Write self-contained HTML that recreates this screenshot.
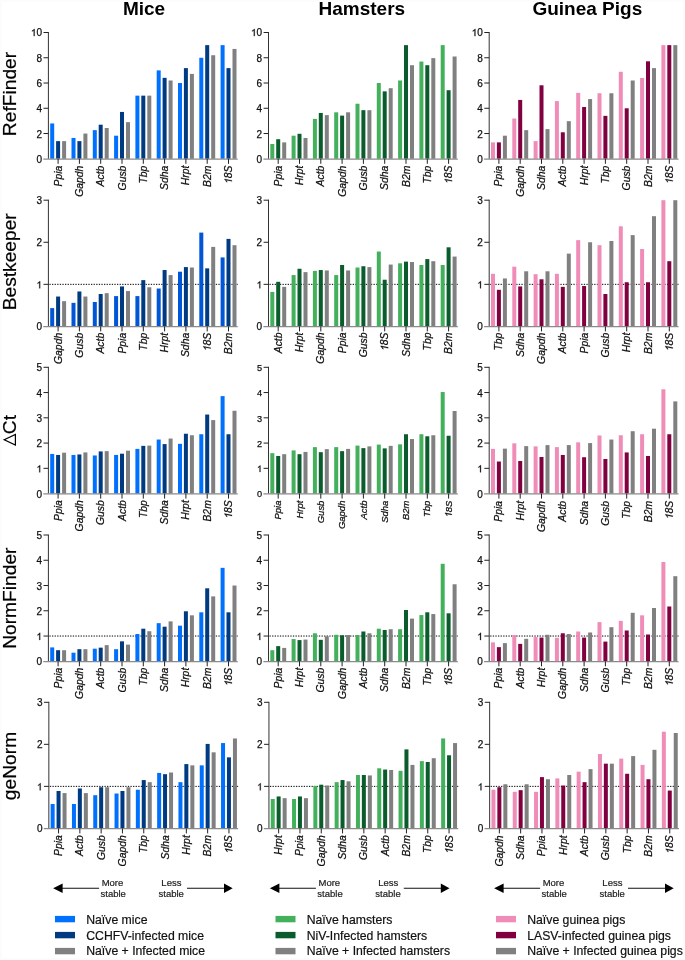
<!DOCTYPE html>
<html><head><meta charset="utf-8"><title>Reference gene stability</title>
<style>html,body{margin:0;padding:0;background:#fff;}svg{display:block;font-family:"Liberation Sans",sans-serif;will-change:transform;}.tl{font-size:10px;fill:#111;stroke:#111;stroke-width:0.25px;}.xl{font-size:10.4px;font-style:italic;fill:#111;stroke:#111;stroke-width:0.25px;}.yt{font-size:19.2px;fill:#000;stroke:#000;stroke-width:0.2px;}.ti{font-size:19px;font-weight:bold;fill:#000;}.st{font-size:9.5px;fill:#222;stroke:#222;stroke-width:0.2px;}.lg{font-size:12.25px;fill:#111;stroke:#111;stroke-width:0.2px;}</style></head><body>
<svg width="685" height="960" viewBox="0 0 685 960">
<rect width="685" height="960" fill="#fcfcfc"/>
<rect x="2" y="2" width="681" height="956" fill="#fff"/>
<text class="ti" x="144" y="15" text-anchor="middle">Mice</text>
<text class="ti" x="361.8" y="15" text-anchor="middle">Hamsters</text>
<text class="ti" x="587.3" y="15" text-anchor="middle">Guinea Pigs</text>
<text class="yt" transform="translate(16,94) rotate(-90)" text-anchor="middle">RefFinder</text>
<rect x="50.2" y="123.44" width="4" height="35.36" fill="#0070ff"/>
<rect x="56.1" y="141.12" width="4" height="17.68" fill="#003a80"/>
<rect x="62.1" y="141.12" width="4" height="17.68" fill="#808080"/>
<rect x="71.5" y="137.96" width="4" height="20.84" fill="#0070ff"/>
<rect x="77.4" y="141.12" width="4" height="17.68" fill="#003a80"/>
<rect x="83.4" y="133.54" width="4" height="25.26" fill="#808080"/>
<rect x="92.8" y="130.13" width="4" height="28.67" fill="#0070ff"/>
<rect x="98.7" y="124.7" width="4" height="34.1" fill="#003a80"/>
<rect x="104.7" y="127.98" width="4" height="30.82" fill="#808080"/>
<rect x="114.1" y="135.69" width="4" height="23.11" fill="#0070ff"/>
<rect x="120" y="111.94" width="4" height="46.86" fill="#003a80"/>
<rect x="126" y="122.17" width="4" height="36.63" fill="#808080"/>
<rect x="135.4" y="95.65" width="4" height="63.15" fill="#0070ff"/>
<rect x="141.3" y="95.65" width="4" height="63.15" fill="#003a80"/>
<rect x="147.3" y="95.65" width="4" height="63.15" fill="#808080"/>
<rect x="156.7" y="70.39" width="4" height="88.41" fill="#0070ff"/>
<rect x="162.6" y="77.84" width="4" height="80.96" fill="#003a80"/>
<rect x="168.6" y="80.49" width="4" height="78.31" fill="#808080"/>
<rect x="178" y="83.02" width="4" height="75.78" fill="#0070ff"/>
<rect x="183.9" y="68.12" width="4" height="90.68" fill="#003a80"/>
<rect x="189.9" y="73.93" width="4" height="84.87" fill="#808080"/>
<rect x="199.3" y="57.76" width="4" height="101.04" fill="#0070ff"/>
<rect x="205.2" y="45.13" width="4" height="113.67" fill="#003a80"/>
<rect x="211.2" y="55.23" width="4" height="103.57" fill="#808080"/>
<rect x="220.6" y="45.13" width="4" height="113.67" fill="#0070ff"/>
<rect x="226.5" y="68.12" width="4" height="90.68" fill="#003a80"/>
<rect x="232.5" y="48.92" width="4" height="109.88" fill="#808080"/>
<line x1="48.4" y1="32" x2="48.4" y2="158.8" stroke="#333" stroke-width="1"/>
<text class="tl" x="42" y="162.8" text-anchor="end">0</text>
<line x1="43.5" y1="133.54" x2="48.4" y2="133.54" stroke="#222" stroke-width="1"/>
<text class="tl" x="42" y="137.54" text-anchor="end">2</text>
<line x1="43.5" y1="108.28" x2="48.4" y2="108.28" stroke="#222" stroke-width="1"/>
<text class="tl" x="42" y="112.28" text-anchor="end">4</text>
<line x1="43.5" y1="83.02" x2="48.4" y2="83.02" stroke="#222" stroke-width="1"/>
<text class="tl" x="42" y="87.02" text-anchor="end">6</text>
<line x1="43.5" y1="57.76" x2="48.4" y2="57.76" stroke="#222" stroke-width="1"/>
<text class="tl" x="42" y="61.76" text-anchor="end">8</text>
<line x1="43.5" y1="32.5" x2="48.4" y2="32.5" stroke="#222" stroke-width="1"/>
<text class="tl" x="42" y="36.1" text-anchor="end">0</text>
<path class="tl" d="M34.6 36.1L33.72 36.1L33.72 30.5Q33.41 30.8 32.89 31.1Q32.38 31.41 31.97 31.56L31.97 30.71Q32.7 30.36 33.25 29.87Q33.81 29.38 34.04 28.91L34.6 28.91Z"/>
<line x1="43.3" y1="159.05" x2="237.7" y2="159.05" stroke="#8a8a8a" stroke-width="1.3"/>
<line x1="58.1" y1="158.8" x2="58.1" y2="163.8" stroke="#222" stroke-width="1"/>
<text class="xl" transform="translate(61.6,165.6) rotate(-90)" text-anchor="end">Ppia</text>
<line x1="79.4" y1="158.8" x2="79.4" y2="163.8" stroke="#222" stroke-width="1"/>
<text class="xl" transform="translate(82.9,165.6) rotate(-90)" text-anchor="end">Gapdh</text>
<line x1="100.7" y1="158.8" x2="100.7" y2="163.8" stroke="#222" stroke-width="1"/>
<text class="xl" transform="translate(104.2,165.6) rotate(-90)" text-anchor="end">Actb</text>
<line x1="122" y1="158.8" x2="122" y2="163.8" stroke="#222" stroke-width="1"/>
<text class="xl" transform="translate(125.5,165.6) rotate(-90)" text-anchor="end">Gusb</text>
<line x1="143.3" y1="158.8" x2="143.3" y2="163.8" stroke="#222" stroke-width="1"/>
<text class="xl" transform="translate(146.8,165.6) rotate(-90)" text-anchor="end">Tbp</text>
<line x1="164.6" y1="158.8" x2="164.6" y2="163.8" stroke="#222" stroke-width="1"/>
<text class="xl" transform="translate(168.1,165.6) rotate(-90)" text-anchor="end">Sdha</text>
<line x1="185.9" y1="158.8" x2="185.9" y2="163.8" stroke="#222" stroke-width="1"/>
<text class="xl" transform="translate(189.4,165.6) rotate(-90)" text-anchor="end">Hrpt</text>
<line x1="207.2" y1="158.8" x2="207.2" y2="163.8" stroke="#222" stroke-width="1"/>
<text class="xl" transform="translate(210.7,165.6) rotate(-90)" text-anchor="end">B2m</text>
<line x1="228.5" y1="158.8" x2="228.5" y2="163.8" stroke="#222" stroke-width="1"/>
<g transform="translate(232,165.6) rotate(-90)"><text class="xl" text-anchor="end">8S</text><path class="xl" d="M-14.83 0L-15.75 0L-14.58 -5.82Q-14.98 -5.51 -15.57 -5.19Q-16.17 -4.88 -16.63 -4.72L-16.45 -5.61Q-15.62 -5.97 -14.94 -6.48Q-14.26 -6.99 -13.93 -7.48L-13.34 -7.48Z"/></g>
<rect x="270.3" y="144.02" width="4" height="14.78" fill="#43b05c"/>
<rect x="276.2" y="139.22" width="4" height="19.58" fill="#0b5c2c"/>
<rect x="282.2" y="142.38" width="4" height="16.42" fill="#808080"/>
<rect x="291.6" y="135.69" width="4" height="23.11" fill="#43b05c"/>
<rect x="297.5" y="133.79" width="4" height="25.01" fill="#0b5c2c"/>
<rect x="303.5" y="137.96" width="4" height="20.84" fill="#808080"/>
<rect x="312.9" y="118.89" width="4" height="39.91" fill="#43b05c"/>
<rect x="318.8" y="112.95" width="4" height="45.85" fill="#0b5c2c"/>
<rect x="324.8" y="115.1" width="4" height="43.7" fill="#808080"/>
<rect x="334.2" y="112.32" width="4" height="46.48" fill="#43b05c"/>
<rect x="340.1" y="115.61" width="4" height="43.19" fill="#0b5c2c"/>
<rect x="346.1" y="112.32" width="4" height="46.48" fill="#808080"/>
<rect x="355.5" y="103.73" width="4" height="55.07" fill="#43b05c"/>
<rect x="361.4" y="110.17" width="4" height="48.63" fill="#0b5c2c"/>
<rect x="367.4" y="110.17" width="4" height="48.63" fill="#808080"/>
<rect x="376.8" y="83.02" width="4" height="75.78" fill="#43b05c"/>
<rect x="382.7" y="91.36" width="4" height="67.44" fill="#0b5c2c"/>
<rect x="388.7" y="88.2" width="4" height="70.6" fill="#808080"/>
<rect x="398.1" y="80.49" width="4" height="78.31" fill="#43b05c"/>
<rect x="404" y="45.13" width="4" height="113.67" fill="#0b5c2c"/>
<rect x="410" y="65.21" width="4" height="93.59" fill="#808080"/>
<rect x="419.4" y="61.55" width="4" height="97.25" fill="#43b05c"/>
<rect x="425.3" y="65.21" width="4" height="93.59" fill="#0b5c2c"/>
<rect x="431.3" y="58.14" width="4" height="100.66" fill="#808080"/>
<rect x="440.7" y="45.13" width="4" height="113.67" fill="#43b05c"/>
<rect x="446.6" y="90.22" width="4" height="68.58" fill="#0b5c2c"/>
<rect x="452.6" y="56.5" width="4" height="102.3" fill="#808080"/>
<line x1="268.5" y1="32" x2="268.5" y2="158.8" stroke="#333" stroke-width="1"/>
<text class="tl" x="262.1" y="162.8" text-anchor="end">0</text>
<line x1="263.6" y1="133.54" x2="268.5" y2="133.54" stroke="#222" stroke-width="1"/>
<text class="tl" x="262.1" y="137.54" text-anchor="end">2</text>
<line x1="263.6" y1="108.28" x2="268.5" y2="108.28" stroke="#222" stroke-width="1"/>
<text class="tl" x="262.1" y="112.28" text-anchor="end">4</text>
<line x1="263.6" y1="83.02" x2="268.5" y2="83.02" stroke="#222" stroke-width="1"/>
<text class="tl" x="262.1" y="87.02" text-anchor="end">6</text>
<line x1="263.6" y1="57.76" x2="268.5" y2="57.76" stroke="#222" stroke-width="1"/>
<text class="tl" x="262.1" y="61.76" text-anchor="end">8</text>
<line x1="263.6" y1="32.5" x2="268.5" y2="32.5" stroke="#222" stroke-width="1"/>
<text class="tl" x="262.1" y="36.1" text-anchor="end">0</text>
<path class="tl" d="M254.7 36.1L253.82 36.1L253.82 30.5Q253.51 30.8 252.99 31.1Q252.48 31.41 252.07 31.56L252.07 30.71Q252.8 30.36 253.35 29.87Q253.91 29.38 254.14 28.91L254.7 28.91Z"/>
<line x1="263.4" y1="159.05" x2="457.8" y2="159.05" stroke="#8a8a8a" stroke-width="1.3"/>
<line x1="278.2" y1="158.8" x2="278.2" y2="163.8" stroke="#222" stroke-width="1"/>
<text class="xl" transform="translate(281.7,165.6) rotate(-90)" text-anchor="end">Ppia</text>
<line x1="299.5" y1="158.8" x2="299.5" y2="163.8" stroke="#222" stroke-width="1"/>
<text class="xl" transform="translate(303,165.6) rotate(-90)" text-anchor="end">Hrpt</text>
<line x1="320.8" y1="158.8" x2="320.8" y2="163.8" stroke="#222" stroke-width="1"/>
<text class="xl" transform="translate(324.3,165.6) rotate(-90)" text-anchor="end">Actb</text>
<line x1="342.1" y1="158.8" x2="342.1" y2="163.8" stroke="#222" stroke-width="1"/>
<text class="xl" transform="translate(345.6,165.6) rotate(-90)" text-anchor="end">Gapdh</text>
<line x1="363.4" y1="158.8" x2="363.4" y2="163.8" stroke="#222" stroke-width="1"/>
<text class="xl" transform="translate(366.9,165.6) rotate(-90)" text-anchor="end">Gusb</text>
<line x1="384.7" y1="158.8" x2="384.7" y2="163.8" stroke="#222" stroke-width="1"/>
<text class="xl" transform="translate(388.2,165.6) rotate(-90)" text-anchor="end">Sdha</text>
<line x1="406" y1="158.8" x2="406" y2="163.8" stroke="#222" stroke-width="1"/>
<text class="xl" transform="translate(409.5,165.6) rotate(-90)" text-anchor="end">B2m</text>
<line x1="427.3" y1="158.8" x2="427.3" y2="163.8" stroke="#222" stroke-width="1"/>
<text class="xl" transform="translate(430.8,165.6) rotate(-90)" text-anchor="end">Tbp</text>
<line x1="448.6" y1="158.8" x2="448.6" y2="163.8" stroke="#222" stroke-width="1"/>
<g transform="translate(452.1,165.6) rotate(-90)"><text class="xl" text-anchor="end">8S</text><path class="xl" d="M-14.83 0L-15.75 0L-14.58 -5.82Q-14.98 -5.51 -15.57 -5.19Q-16.17 -4.88 -16.63 -4.72L-16.45 -5.61Q-15.62 -5.97 -14.94 -6.48Q-14.26 -6.99 -13.93 -7.48L-13.34 -7.48Z"/></g>
<rect x="491" y="142.38" width="4" height="16.42" fill="#f08cb8"/>
<rect x="496.9" y="142.38" width="4" height="16.42" fill="#800040"/>
<rect x="502.9" y="135.69" width="4" height="23.11" fill="#808080"/>
<rect x="512.3" y="118.51" width="4" height="40.29" fill="#f08cb8"/>
<rect x="518.2" y="99.94" width="4" height="58.86" fill="#800040"/>
<rect x="524.2" y="130.13" width="4" height="28.67" fill="#808080"/>
<rect x="533.6" y="141.12" width="4" height="17.68" fill="#f08cb8"/>
<rect x="539.5" y="85.29" width="4" height="73.51" fill="#800040"/>
<rect x="545.5" y="129.12" width="4" height="29.68" fill="#808080"/>
<rect x="554.9" y="101.08" width="4" height="57.72" fill="#f08cb8"/>
<rect x="560.8" y="132.28" width="4" height="26.52" fill="#800040"/>
<rect x="566.8" y="121.16" width="4" height="37.64" fill="#808080"/>
<rect x="576.2" y="92.87" width="4" height="65.93" fill="#f08cb8"/>
<rect x="582.1" y="107.02" width="4" height="51.78" fill="#800040"/>
<rect x="588.1" y="99.06" width="4" height="59.74" fill="#808080"/>
<rect x="597.5" y="93.25" width="4" height="65.55" fill="#f08cb8"/>
<rect x="603.4" y="115.86" width="4" height="42.94" fill="#800040"/>
<rect x="609.4" y="93.25" width="4" height="65.55" fill="#808080"/>
<rect x="618.8" y="71.78" width="4" height="87.02" fill="#f08cb8"/>
<rect x="624.7" y="108.28" width="4" height="50.52" fill="#800040"/>
<rect x="630.7" y="80.49" width="4" height="78.31" fill="#808080"/>
<rect x="640.1" y="77.97" width="4" height="80.83" fill="#f08cb8"/>
<rect x="646" y="61.3" width="4" height="97.5" fill="#800040"/>
<rect x="652" y="68.12" width="4" height="90.68" fill="#808080"/>
<rect x="661.4" y="45.13" width="4" height="113.67" fill="#f08cb8"/>
<rect x="667.3" y="45.13" width="4" height="113.67" fill="#800040"/>
<rect x="673.3" y="45.13" width="4" height="113.67" fill="#808080"/>
<line x1="489.2" y1="32" x2="489.2" y2="158.8" stroke="#333" stroke-width="1"/>
<text class="tl" x="482.8" y="162.8" text-anchor="end">0</text>
<line x1="484.3" y1="133.54" x2="489.2" y2="133.54" stroke="#222" stroke-width="1"/>
<text class="tl" x="482.8" y="137.54" text-anchor="end">2</text>
<line x1="484.3" y1="108.28" x2="489.2" y2="108.28" stroke="#222" stroke-width="1"/>
<text class="tl" x="482.8" y="112.28" text-anchor="end">4</text>
<line x1="484.3" y1="83.02" x2="489.2" y2="83.02" stroke="#222" stroke-width="1"/>
<text class="tl" x="482.8" y="87.02" text-anchor="end">6</text>
<line x1="484.3" y1="57.76" x2="489.2" y2="57.76" stroke="#222" stroke-width="1"/>
<text class="tl" x="482.8" y="61.76" text-anchor="end">8</text>
<line x1="484.3" y1="32.5" x2="489.2" y2="32.5" stroke="#222" stroke-width="1"/>
<text class="tl" x="482.8" y="36.1" text-anchor="end">0</text>
<path class="tl" d="M475.4 36.1L474.52 36.1L474.52 30.5Q474.21 30.8 473.69 31.1Q473.18 31.41 472.77 31.56L472.77 30.71Q473.5 30.36 474.05 29.87Q474.61 29.38 474.84 28.91L475.4 28.91Z"/>
<line x1="484.1" y1="159.05" x2="678.5" y2="159.05" stroke="#8a8a8a" stroke-width="1.3"/>
<line x1="498.9" y1="158.8" x2="498.9" y2="163.8" stroke="#222" stroke-width="1"/>
<text class="xl" transform="translate(502.4,165.6) rotate(-90)" text-anchor="end">Ppia</text>
<line x1="520.2" y1="158.8" x2="520.2" y2="163.8" stroke="#222" stroke-width="1"/>
<text class="xl" transform="translate(523.7,165.6) rotate(-90)" text-anchor="end">Gapdh</text>
<line x1="541.5" y1="158.8" x2="541.5" y2="163.8" stroke="#222" stroke-width="1"/>
<text class="xl" transform="translate(545,165.6) rotate(-90)" text-anchor="end">Sdha</text>
<line x1="562.8" y1="158.8" x2="562.8" y2="163.8" stroke="#222" stroke-width="1"/>
<text class="xl" transform="translate(566.3,165.6) rotate(-90)" text-anchor="end">Actb</text>
<line x1="584.1" y1="158.8" x2="584.1" y2="163.8" stroke="#222" stroke-width="1"/>
<text class="xl" transform="translate(587.6,165.6) rotate(-90)" text-anchor="end">Hrpt</text>
<line x1="605.4" y1="158.8" x2="605.4" y2="163.8" stroke="#222" stroke-width="1"/>
<text class="xl" transform="translate(608.9,165.6) rotate(-90)" text-anchor="end">Tbp</text>
<line x1="626.7" y1="158.8" x2="626.7" y2="163.8" stroke="#222" stroke-width="1"/>
<text class="xl" transform="translate(630.2,165.6) rotate(-90)" text-anchor="end">Gusb</text>
<line x1="648" y1="158.8" x2="648" y2="163.8" stroke="#222" stroke-width="1"/>
<text class="xl" transform="translate(651.5,165.6) rotate(-90)" text-anchor="end">B2m</text>
<line x1="669.3" y1="158.8" x2="669.3" y2="163.8" stroke="#222" stroke-width="1"/>
<g transform="translate(672.8,165.6) rotate(-90)"><text class="xl" text-anchor="end">8S</text><path class="xl" d="M-14.83 0L-15.75 0L-14.58 -5.82Q-14.98 -5.51 -15.57 -5.19Q-16.17 -4.88 -16.63 -4.72L-16.45 -5.61Q-15.62 -5.97 -14.94 -6.48Q-14.26 -6.99 -13.93 -7.48L-13.34 -7.48Z"/></g>
<text class="yt" transform="translate(16,261.8) rotate(-90)" text-anchor="middle">Bestkeeper</text>
<line x1="49.4" y1="284.33" x2="237.7" y2="284.33" stroke="#000" stroke-width="1" stroke-dasharray="1.3 1.3"/>
<rect x="50.2" y="308.1" width="4" height="18.3" fill="#0056d6"/>
<rect x="56.1" y="296.53" width="4" height="29.87" fill="#003a80"/>
<rect x="62.1" y="301.16" width="4" height="25.24" fill="#808080"/>
<rect x="71.5" y="302.84" width="4" height="23.56" fill="#0056d6"/>
<rect x="77.4" y="291.48" width="4" height="34.92" fill="#003a80"/>
<rect x="83.4" y="296.53" width="4" height="29.87" fill="#808080"/>
<rect x="92.8" y="302" width="4" height="24.4" fill="#0056d6"/>
<rect x="98.7" y="294.01" width="4" height="32.39" fill="#003a80"/>
<rect x="104.7" y="293.17" width="4" height="33.23" fill="#808080"/>
<rect x="114.1" y="296.11" width="4" height="30.29" fill="#0056d6"/>
<rect x="120" y="286.44" width="4" height="39.96" fill="#003a80"/>
<rect x="126" y="291.06" width="4" height="35.34" fill="#808080"/>
<rect x="135.4" y="296.11" width="4" height="30.29" fill="#0056d6"/>
<rect x="141.3" y="280.13" width="4" height="46.27" fill="#003a80"/>
<rect x="147.3" y="287.28" width="4" height="39.12" fill="#808080"/>
<rect x="156.7" y="288.54" width="4" height="37.86" fill="#0056d6"/>
<rect x="162.6" y="270.03" width="4" height="56.37" fill="#003a80"/>
<rect x="168.6" y="275.08" width="4" height="51.32" fill="#808080"/>
<rect x="178" y="271.71" width="4" height="54.69" fill="#0056d6"/>
<rect x="183.9" y="267.09" width="4" height="59.31" fill="#003a80"/>
<rect x="189.9" y="267.51" width="4" height="58.89" fill="#808080"/>
<rect x="199.3" y="232.59" width="4" height="93.81" fill="#0056d6"/>
<rect x="205.2" y="268.35" width="4" height="58.05" fill="#003a80"/>
<rect x="211.2" y="246.89" width="4" height="79.51" fill="#808080"/>
<rect x="220.6" y="257.41" width="4" height="68.99" fill="#0056d6"/>
<rect x="226.5" y="238.9" width="4" height="87.5" fill="#003a80"/>
<rect x="232.5" y="245.21" width="4" height="81.19" fill="#808080"/>
<line x1="48.4" y1="199.7" x2="48.4" y2="326.4" stroke="#333" stroke-width="1"/>
<text class="tl" x="42" y="330.4" text-anchor="end">0</text>
<line x1="43.5" y1="284.33" x2="48.4" y2="284.33" stroke="#222" stroke-width="1"/>
<path class="tl" d="M40.16 288.33L39.29 288.33L39.29 282.73Q38.97 283.04 38.45 283.34Q37.94 283.64 37.53 283.79L37.53 282.94Q38.26 282.6 38.82 282.1Q39.37 281.61 39.6 281.15L40.16 281.15Z"/>
<line x1="43.5" y1="242.27" x2="48.4" y2="242.27" stroke="#222" stroke-width="1"/>
<text class="tl" x="42" y="246.27" text-anchor="end">2</text>
<line x1="43.5" y1="200.2" x2="48.4" y2="200.2" stroke="#222" stroke-width="1"/>
<text class="tl" x="42" y="204.2" text-anchor="end">3</text>
<line x1="43.3" y1="326.65" x2="237.7" y2="326.65" stroke="#8a8a8a" stroke-width="1.3"/>
<line x1="58.1" y1="326.4" x2="58.1" y2="331.4" stroke="#222" stroke-width="1"/>
<text class="xl" transform="translate(61.6,332.8) rotate(-90)" text-anchor="end">Gapdh</text>
<line x1="79.4" y1="326.4" x2="79.4" y2="331.4" stroke="#222" stroke-width="1"/>
<text class="xl" transform="translate(82.9,332.8) rotate(-90)" text-anchor="end">Gusb</text>
<line x1="100.7" y1="326.4" x2="100.7" y2="331.4" stroke="#222" stroke-width="1"/>
<text class="xl" transform="translate(104.2,332.8) rotate(-90)" text-anchor="end">Actb</text>
<line x1="122" y1="326.4" x2="122" y2="331.4" stroke="#222" stroke-width="1"/>
<text class="xl" transform="translate(125.5,332.8) rotate(-90)" text-anchor="end">Ppia</text>
<line x1="143.3" y1="326.4" x2="143.3" y2="331.4" stroke="#222" stroke-width="1"/>
<text class="xl" transform="translate(146.8,332.8) rotate(-90)" text-anchor="end">Tbp</text>
<line x1="164.6" y1="326.4" x2="164.6" y2="331.4" stroke="#222" stroke-width="1"/>
<text class="xl" transform="translate(168.1,332.8) rotate(-90)" text-anchor="end">Hrpt</text>
<line x1="185.9" y1="326.4" x2="185.9" y2="331.4" stroke="#222" stroke-width="1"/>
<text class="xl" transform="translate(189.4,332.8) rotate(-90)" text-anchor="end">Sdha</text>
<line x1="207.2" y1="326.4" x2="207.2" y2="331.4" stroke="#222" stroke-width="1"/>
<g transform="translate(210.7,332.8) rotate(-90)"><text class="xl" text-anchor="end">8S</text><path class="xl" d="M-14.83 0L-15.75 0L-14.58 -5.82Q-14.98 -5.51 -15.57 -5.19Q-16.17 -4.88 -16.63 -4.72L-16.45 -5.61Q-15.62 -5.97 -14.94 -6.48Q-14.26 -6.99 -13.93 -7.48L-13.34 -7.48Z"/></g>
<line x1="228.5" y1="326.4" x2="228.5" y2="331.4" stroke="#222" stroke-width="1"/>
<text class="xl" transform="translate(232,332.8) rotate(-90)" text-anchor="end">B2m</text>
<line x1="269.5" y1="284.33" x2="457.8" y2="284.33" stroke="#000" stroke-width="1" stroke-dasharray="1.3 1.3"/>
<rect x="270.3" y="291.91" width="4" height="34.49" fill="#43b05c"/>
<rect x="276.2" y="281.81" width="4" height="44.59" fill="#0b5c2c"/>
<rect x="282.2" y="286.86" width="4" height="39.54" fill="#808080"/>
<rect x="291.6" y="275.08" width="4" height="51.32" fill="#43b05c"/>
<rect x="297.5" y="268.77" width="4" height="57.63" fill="#0b5c2c"/>
<rect x="303.5" y="272.13" width="4" height="54.27" fill="#808080"/>
<rect x="312.9" y="270.87" width="4" height="55.53" fill="#43b05c"/>
<rect x="318.8" y="270.03" width="4" height="56.37" fill="#0b5c2c"/>
<rect x="324.8" y="270.45" width="4" height="55.95" fill="#808080"/>
<rect x="334.2" y="275.08" width="4" height="51.32" fill="#43b05c"/>
<rect x="340.1" y="264.98" width="4" height="61.42" fill="#0b5c2c"/>
<rect x="346.1" y="270.45" width="4" height="55.95" fill="#808080"/>
<rect x="355.5" y="267.51" width="4" height="58.89" fill="#43b05c"/>
<rect x="361.4" y="266.24" width="4" height="60.16" fill="#0b5c2c"/>
<rect x="367.4" y="267.09" width="4" height="59.31" fill="#808080"/>
<rect x="376.8" y="251.52" width="4" height="74.88" fill="#43b05c"/>
<rect x="382.7" y="279.71" width="4" height="46.69" fill="#0b5c2c"/>
<rect x="388.7" y="264.56" width="4" height="61.84" fill="#808080"/>
<rect x="398.1" y="263.3" width="4" height="63.1" fill="#43b05c"/>
<rect x="404" y="261.62" width="4" height="64.78" fill="#0b5c2c"/>
<rect x="410" y="262.04" width="4" height="64.36" fill="#808080"/>
<rect x="419.4" y="264.98" width="4" height="61.42" fill="#43b05c"/>
<rect x="425.3" y="259.09" width="4" height="67.31" fill="#0b5c2c"/>
<rect x="431.3" y="261.2" width="4" height="65.2" fill="#808080"/>
<rect x="440.7" y="264.98" width="4" height="61.42" fill="#43b05c"/>
<rect x="446.6" y="247.31" width="4" height="79.09" fill="#0b5c2c"/>
<rect x="452.6" y="256.57" width="4" height="69.83" fill="#808080"/>
<line x1="268.5" y1="199.7" x2="268.5" y2="326.4" stroke="#333" stroke-width="1"/>
<text class="tl" x="262.1" y="330.4" text-anchor="end">0</text>
<line x1="263.6" y1="284.33" x2="268.5" y2="284.33" stroke="#222" stroke-width="1"/>
<path class="tl" d="M260.26 288.33L259.39 288.33L259.39 282.73Q259.07 283.04 258.55 283.34Q258.04 283.64 257.63 283.79L257.63 282.94Q258.36 282.6 258.92 282.1Q259.47 281.61 259.7 281.15L260.26 281.15Z"/>
<line x1="263.6" y1="242.27" x2="268.5" y2="242.27" stroke="#222" stroke-width="1"/>
<text class="tl" x="262.1" y="246.27" text-anchor="end">2</text>
<line x1="263.6" y1="200.2" x2="268.5" y2="200.2" stroke="#222" stroke-width="1"/>
<text class="tl" x="262.1" y="204.2" text-anchor="end">3</text>
<line x1="263.4" y1="326.65" x2="457.8" y2="326.65" stroke="#8a8a8a" stroke-width="1.3"/>
<line x1="278.2" y1="326.4" x2="278.2" y2="331.4" stroke="#222" stroke-width="1"/>
<text class="xl" transform="translate(281.7,332.5) rotate(-90)" text-anchor="end">Actb</text>
<line x1="299.5" y1="326.4" x2="299.5" y2="331.4" stroke="#222" stroke-width="1"/>
<text class="xl" transform="translate(303,332.5) rotate(-90)" text-anchor="end">Hrpt</text>
<line x1="320.8" y1="326.4" x2="320.8" y2="331.4" stroke="#222" stroke-width="1"/>
<text class="xl" transform="translate(324.3,332.5) rotate(-90)" text-anchor="end">Gapdh</text>
<line x1="342.1" y1="326.4" x2="342.1" y2="331.4" stroke="#222" stroke-width="1"/>
<text class="xl" transform="translate(345.6,332.5) rotate(-90)" text-anchor="end">Ppia</text>
<line x1="363.4" y1="326.4" x2="363.4" y2="331.4" stroke="#222" stroke-width="1"/>
<text class="xl" transform="translate(366.9,332.5) rotate(-90)" text-anchor="end">Gusb</text>
<line x1="384.7" y1="326.4" x2="384.7" y2="331.4" stroke="#222" stroke-width="1"/>
<g transform="translate(388.2,332.5) rotate(-90)"><text class="xl" text-anchor="end">8S</text><path class="xl" d="M-14.83 0L-15.75 0L-14.58 -5.82Q-14.98 -5.51 -15.57 -5.19Q-16.17 -4.88 -16.63 -4.72L-16.45 -5.61Q-15.62 -5.97 -14.94 -6.48Q-14.26 -6.99 -13.93 -7.48L-13.34 -7.48Z"/></g>
<line x1="406" y1="326.4" x2="406" y2="331.4" stroke="#222" stroke-width="1"/>
<text class="xl" transform="translate(409.5,332.5) rotate(-90)" text-anchor="end">Sdha</text>
<line x1="427.3" y1="326.4" x2="427.3" y2="331.4" stroke="#222" stroke-width="1"/>
<text class="xl" transform="translate(430.8,332.5) rotate(-90)" text-anchor="end">Tbp</text>
<line x1="448.6" y1="326.4" x2="448.6" y2="331.4" stroke="#222" stroke-width="1"/>
<text class="xl" transform="translate(452.1,332.5) rotate(-90)" text-anchor="end">B2m</text>
<line x1="490.2" y1="284.33" x2="678.5" y2="284.33" stroke="#000" stroke-width="1" stroke-dasharray="1.3 1.3"/>
<rect x="491" y="273.82" width="4" height="52.58" fill="#f08cb8"/>
<rect x="496.9" y="289.8" width="4" height="36.6" fill="#800040"/>
<rect x="502.9" y="278.44" width="4" height="47.96" fill="#808080"/>
<rect x="512.3" y="266.67" width="4" height="59.73" fill="#f08cb8"/>
<rect x="518.2" y="286.44" width="4" height="39.96" fill="#800040"/>
<rect x="524.2" y="271.29" width="4" height="55.11" fill="#808080"/>
<rect x="533.6" y="274.24" width="4" height="52.16" fill="#f08cb8"/>
<rect x="539.5" y="279.29" width="4" height="47.11" fill="#800040"/>
<rect x="545.5" y="271.29" width="4" height="55.11" fill="#808080"/>
<rect x="554.9" y="273.82" width="4" height="52.58" fill="#f08cb8"/>
<rect x="560.8" y="286.86" width="4" height="39.54" fill="#800040"/>
<rect x="566.8" y="253.62" width="4" height="72.78" fill="#808080"/>
<rect x="576.2" y="240.16" width="4" height="86.24" fill="#f08cb8"/>
<rect x="582.1" y="286.02" width="4" height="40.38" fill="#800040"/>
<rect x="588.1" y="242.27" width="4" height="84.13" fill="#808080"/>
<rect x="597.5" y="245.21" width="4" height="81.19" fill="#f08cb8"/>
<rect x="603.4" y="294.01" width="4" height="32.39" fill="#800040"/>
<rect x="609.4" y="241" width="4" height="85.4" fill="#808080"/>
<rect x="618.8" y="226.28" width="4" height="100.12" fill="#f08cb8"/>
<rect x="624.7" y="282.23" width="4" height="44.17" fill="#800040"/>
<rect x="630.7" y="235.12" width="4" height="91.28" fill="#808080"/>
<rect x="640.1" y="249" width="4" height="77.4" fill="#f08cb8"/>
<rect x="646" y="282.23" width="4" height="44.17" fill="#800040"/>
<rect x="652" y="216.19" width="4" height="110.21" fill="#808080"/>
<rect x="661.4" y="200.2" width="4" height="126.2" fill="#f08cb8"/>
<rect x="667.3" y="261.2" width="4" height="65.2" fill="#800040"/>
<rect x="673.3" y="200.2" width="4" height="126.2" fill="#808080"/>
<line x1="489.2" y1="199.7" x2="489.2" y2="326.4" stroke="#333" stroke-width="1"/>
<text class="tl" x="482.8" y="330.4" text-anchor="end">0</text>
<line x1="484.3" y1="284.33" x2="489.2" y2="284.33" stroke="#222" stroke-width="1"/>
<path class="tl" d="M480.96 288.33L480.09 288.33L480.09 282.73Q479.77 283.04 479.25 283.34Q478.74 283.64 478.33 283.79L478.33 282.94Q479.06 282.6 479.62 282.1Q480.17 281.61 480.4 281.15L480.96 281.15Z"/>
<line x1="484.3" y1="242.27" x2="489.2" y2="242.27" stroke="#222" stroke-width="1"/>
<text class="tl" x="482.8" y="246.27" text-anchor="end">2</text>
<line x1="484.3" y1="200.2" x2="489.2" y2="200.2" stroke="#222" stroke-width="1"/>
<text class="tl" x="482.8" y="204.2" text-anchor="end">3</text>
<line x1="484.1" y1="326.65" x2="678.5" y2="326.65" stroke="#8a8a8a" stroke-width="1.3"/>
<line x1="498.9" y1="326.4" x2="498.9" y2="331.4" stroke="#222" stroke-width="1"/>
<text class="xl" transform="translate(502.4,332.7) rotate(-90)" text-anchor="end">Tbp</text>
<line x1="520.2" y1="326.4" x2="520.2" y2="331.4" stroke="#222" stroke-width="1"/>
<text class="xl" transform="translate(523.7,332.7) rotate(-90)" text-anchor="end">Sdha</text>
<line x1="541.5" y1="326.4" x2="541.5" y2="331.4" stroke="#222" stroke-width="1"/>
<text class="xl" transform="translate(545,332.7) rotate(-90)" text-anchor="end">Gapdh</text>
<line x1="562.8" y1="326.4" x2="562.8" y2="331.4" stroke="#222" stroke-width="1"/>
<text class="xl" transform="translate(566.3,332.7) rotate(-90)" text-anchor="end">Actb</text>
<line x1="584.1" y1="326.4" x2="584.1" y2="331.4" stroke="#222" stroke-width="1"/>
<text class="xl" transform="translate(587.6,332.7) rotate(-90)" text-anchor="end">Ppia</text>
<line x1="605.4" y1="326.4" x2="605.4" y2="331.4" stroke="#222" stroke-width="1"/>
<text class="xl" transform="translate(608.9,332.7) rotate(-90)" text-anchor="end">Gusb</text>
<line x1="626.7" y1="326.4" x2="626.7" y2="331.4" stroke="#222" stroke-width="1"/>
<text class="xl" transform="translate(630.2,332.7) rotate(-90)" text-anchor="end">Hrpt</text>
<line x1="648" y1="326.4" x2="648" y2="331.4" stroke="#222" stroke-width="1"/>
<text class="xl" transform="translate(651.5,332.7) rotate(-90)" text-anchor="end">B2m</text>
<line x1="669.3" y1="326.4" x2="669.3" y2="331.4" stroke="#222" stroke-width="1"/>
<g transform="translate(672.8,332.7) rotate(-90)"><text class="xl" text-anchor="end">8S</text><path class="xl" d="M-14.83 0L-15.75 0L-14.58 -5.82Q-14.98 -5.51 -15.57 -5.19Q-16.17 -4.88 -16.63 -4.72L-16.45 -5.61Q-15.62 -5.97 -14.94 -6.48Q-14.26 -6.99 -13.93 -7.48L-13.34 -7.48Z"/></g>
<g transform="translate(16,430.5) rotate(-90)">
<text class="yt" x="-3.7" y="0">Ct</text>
<polygon points="-14.6,-0.6 -3.9,-0.6 -9.2,-11.8" fill="none" stroke="#000" stroke-width="1.2" stroke-linejoin="miter"/>
</g>
<rect x="50.2" y="453.94" width="4" height="39.66" fill="#0070ff"/>
<rect x="56.1" y="454.95" width="4" height="38.65" fill="#003a80"/>
<rect x="62.1" y="452.68" width="4" height="40.92" fill="#808080"/>
<rect x="71.5" y="454.95" width="4" height="38.65" fill="#0070ff"/>
<rect x="77.4" y="454.45" width="4" height="39.15" fill="#003a80"/>
<rect x="83.4" y="452.43" width="4" height="41.17" fill="#808080"/>
<rect x="92.8" y="455.46" width="4" height="38.14" fill="#0070ff"/>
<rect x="98.7" y="451.42" width="4" height="42.18" fill="#003a80"/>
<rect x="104.7" y="451.16" width="4" height="42.44" fill="#808080"/>
<rect x="114.1" y="454.95" width="4" height="38.65" fill="#0070ff"/>
<rect x="120" y="453.69" width="4" height="39.91" fill="#003a80"/>
<rect x="126" y="450.66" width="4" height="42.94" fill="#808080"/>
<rect x="135.4" y="448.89" width="4" height="44.71" fill="#0070ff"/>
<rect x="141.3" y="445.86" width="4" height="47.74" fill="#003a80"/>
<rect x="147.3" y="445.61" width="4" height="47.99" fill="#808080"/>
<rect x="156.7" y="439.54" width="4" height="54.06" fill="#0070ff"/>
<rect x="162.6" y="444.09" width="4" height="49.51" fill="#003a80"/>
<rect x="168.6" y="438.53" width="4" height="55.07" fill="#808080"/>
<rect x="178" y="443.84" width="4" height="49.76" fill="#0070ff"/>
<rect x="183.9" y="433.73" width="4" height="59.87" fill="#003a80"/>
<rect x="189.9" y="435.25" width="4" height="58.35" fill="#808080"/>
<rect x="199.3" y="434.24" width="4" height="59.36" fill="#0070ff"/>
<rect x="205.2" y="414.54" width="4" height="79.06" fill="#003a80"/>
<rect x="211.2" y="420.09" width="4" height="73.51" fill="#808080"/>
<rect x="220.6" y="396.1" width="4" height="97.5" fill="#0070ff"/>
<rect x="226.5" y="434.24" width="4" height="59.36" fill="#003a80"/>
<rect x="232.5" y="410.75" width="4" height="82.85" fill="#808080"/>
<line x1="48.4" y1="366.8" x2="48.4" y2="493.6" stroke="#333" stroke-width="1"/>
<text class="tl" x="42" y="497.6" text-anchor="end">0</text>
<line x1="43.5" y1="468.34" x2="48.4" y2="468.34" stroke="#222" stroke-width="1"/>
<path class="tl" d="M40.16 472.34L39.29 472.34L39.29 466.74Q38.97 467.04 38.45 467.34Q37.94 467.65 37.53 467.8L37.53 466.95Q38.26 466.6 38.82 466.11Q39.37 465.62 39.6 465.15L40.16 465.15Z"/>
<line x1="43.5" y1="443.08" x2="48.4" y2="443.08" stroke="#222" stroke-width="1"/>
<text class="tl" x="42" y="447.08" text-anchor="end">2</text>
<line x1="43.5" y1="417.82" x2="48.4" y2="417.82" stroke="#222" stroke-width="1"/>
<text class="tl" x="42" y="421.82" text-anchor="end">3</text>
<line x1="43.5" y1="392.56" x2="48.4" y2="392.56" stroke="#222" stroke-width="1"/>
<text class="tl" x="42" y="396.56" text-anchor="end">4</text>
<line x1="43.5" y1="367.3" x2="48.4" y2="367.3" stroke="#222" stroke-width="1"/>
<text class="tl" x="42" y="371.3" text-anchor="end">5</text>
<line x1="43.3" y1="493.85" x2="237.7" y2="493.85" stroke="#8a8a8a" stroke-width="1.3"/>
<line x1="58.1" y1="493.6" x2="58.1" y2="498.6" stroke="#222" stroke-width="1"/>
<text class="xl" transform="translate(61.6,500.2) rotate(-90)" text-anchor="end">Ppia</text>
<line x1="79.4" y1="493.6" x2="79.4" y2="498.6" stroke="#222" stroke-width="1"/>
<text class="xl" transform="translate(82.9,500.2) rotate(-90)" text-anchor="end">Gapdh</text>
<line x1="100.7" y1="493.6" x2="100.7" y2="498.6" stroke="#222" stroke-width="1"/>
<text class="xl" transform="translate(104.2,500.2) rotate(-90)" text-anchor="end">Gusb</text>
<line x1="122" y1="493.6" x2="122" y2="498.6" stroke="#222" stroke-width="1"/>
<text class="xl" transform="translate(125.5,500.2) rotate(-90)" text-anchor="end">Actb</text>
<line x1="143.3" y1="493.6" x2="143.3" y2="498.6" stroke="#222" stroke-width="1"/>
<text class="xl" transform="translate(146.8,500.2) rotate(-90)" text-anchor="end">Tbp</text>
<line x1="164.6" y1="493.6" x2="164.6" y2="498.6" stroke="#222" stroke-width="1"/>
<text class="xl" transform="translate(168.1,500.2) rotate(-90)" text-anchor="end">Sdha</text>
<line x1="185.9" y1="493.6" x2="185.9" y2="498.6" stroke="#222" stroke-width="1"/>
<text class="xl" transform="translate(189.4,500.2) rotate(-90)" text-anchor="end">Hrpt</text>
<line x1="207.2" y1="493.6" x2="207.2" y2="498.6" stroke="#222" stroke-width="1"/>
<text class="xl" transform="translate(210.7,500.2) rotate(-90)" text-anchor="end">B2m</text>
<line x1="228.5" y1="493.6" x2="228.5" y2="498.6" stroke="#222" stroke-width="1"/>
<g transform="translate(232,500.2) rotate(-90)"><text class="xl" text-anchor="end">8S</text><path class="xl" d="M-14.83 0L-15.75 0L-14.58 -5.82Q-14.98 -5.51 -15.57 -5.19Q-16.17 -4.88 -16.63 -4.72L-16.45 -5.61Q-15.62 -5.97 -14.94 -6.48Q-14.26 -6.99 -13.93 -7.48L-13.34 -7.48Z"/></g>
<rect x="270.3" y="453.18" width="4" height="40.42" fill="#43b05c"/>
<rect x="276.2" y="455.96" width="4" height="37.64" fill="#0b5c2c"/>
<rect x="282.2" y="454.19" width="4" height="39.41" fill="#808080"/>
<rect x="291.6" y="450.41" width="4" height="43.19" fill="#43b05c"/>
<rect x="297.5" y="454.19" width="4" height="39.41" fill="#0b5c2c"/>
<rect x="303.5" y="451.92" width="4" height="41.68" fill="#808080"/>
<rect x="312.9" y="447.12" width="4" height="46.48" fill="#43b05c"/>
<rect x="318.8" y="452.17" width="4" height="41.43" fill="#0b5c2c"/>
<rect x="324.8" y="449.14" width="4" height="44.46" fill="#808080"/>
<rect x="334.2" y="447.12" width="4" height="46.48" fill="#43b05c"/>
<rect x="340.1" y="451.16" width="4" height="42.44" fill="#0b5c2c"/>
<rect x="346.1" y="448.89" width="4" height="44.71" fill="#808080"/>
<rect x="355.5" y="445.61" width="4" height="47.99" fill="#43b05c"/>
<rect x="361.4" y="448.13" width="4" height="45.47" fill="#0b5c2c"/>
<rect x="367.4" y="446.36" width="4" height="47.24" fill="#808080"/>
<rect x="376.8" y="444.6" width="4" height="49" fill="#43b05c"/>
<rect x="382.7" y="448.38" width="4" height="45.22" fill="#0b5c2c"/>
<rect x="388.7" y="445.86" width="4" height="47.74" fill="#808080"/>
<rect x="398.1" y="444.34" width="4" height="49.26" fill="#43b05c"/>
<rect x="404" y="434.24" width="4" height="59.36" fill="#0b5c2c"/>
<rect x="410" y="439.04" width="4" height="54.56" fill="#808080"/>
<rect x="419.4" y="434.24" width="4" height="59.36" fill="#43b05c"/>
<rect x="425.3" y="436.26" width="4" height="57.34" fill="#0b5c2c"/>
<rect x="431.3" y="435.25" width="4" height="58.35" fill="#808080"/>
<rect x="440.7" y="392.05" width="4" height="101.55" fill="#43b05c"/>
<rect x="446.6" y="435.75" width="4" height="57.85" fill="#0b5c2c"/>
<rect x="452.6" y="411" width="4" height="82.6" fill="#808080"/>
<line x1="268.5" y1="366.8" x2="268.5" y2="493.6" stroke="#333" stroke-width="1"/>
<text class="tl" style="font-size:9.2px" x="262.1" y="497.28" text-anchor="end">0</text>
<line x1="263.6" y1="468.34" x2="268.5" y2="468.34" stroke="#222" stroke-width="1"/>
<path class="tl" d="M260.41 472.02L259.6 472.02L259.6 466.87Q259.31 467.15 258.84 467.42Q258.36 467.7 257.99 467.84L257.99 467.06Q258.66 466.74 259.17 466.29Q259.68 465.83 259.89 465.41L260.41 465.41Z"/>
<line x1="263.6" y1="443.08" x2="268.5" y2="443.08" stroke="#222" stroke-width="1"/>
<text class="tl" style="font-size:9.2px" x="262.1" y="446.76" text-anchor="end">2</text>
<line x1="263.6" y1="417.82" x2="268.5" y2="417.82" stroke="#222" stroke-width="1"/>
<text class="tl" style="font-size:9.2px" x="262.1" y="421.5" text-anchor="end">3</text>
<line x1="263.6" y1="392.56" x2="268.5" y2="392.56" stroke="#222" stroke-width="1"/>
<text class="tl" style="font-size:9.2px" x="262.1" y="396.24" text-anchor="end">4</text>
<line x1="263.6" y1="367.3" x2="268.5" y2="367.3" stroke="#222" stroke-width="1"/>
<text class="tl" style="font-size:9.2px" x="262.1" y="370.98" text-anchor="end">5</text>
<line x1="263.4" y1="493.85" x2="457.8" y2="493.85" stroke="#8a8a8a" stroke-width="1.3"/>
<line x1="278.2" y1="493.6" x2="278.2" y2="498.6" stroke="#222" stroke-width="1"/>
<text class="xl" style="font-size:9.47px" transform="translate(281.39,500.6) rotate(-90)" text-anchor="end">Ppia</text>
<line x1="299.5" y1="493.6" x2="299.5" y2="498.6" stroke="#222" stroke-width="1"/>
<text class="xl" style="font-size:9.47px" transform="translate(302.69,500.6) rotate(-90)" text-anchor="end">Hrpt</text>
<line x1="320.8" y1="493.6" x2="320.8" y2="498.6" stroke="#222" stroke-width="1"/>
<text class="xl" style="font-size:9.47px" transform="translate(323.99,500.6) rotate(-90)" text-anchor="end">Gusb</text>
<line x1="342.1" y1="493.6" x2="342.1" y2="498.6" stroke="#222" stroke-width="1"/>
<text class="xl" style="font-size:9.47px" transform="translate(345.29,500.6) rotate(-90)" text-anchor="end">Gapdh</text>
<line x1="363.4" y1="493.6" x2="363.4" y2="498.6" stroke="#222" stroke-width="1"/>
<text class="xl" style="font-size:9.47px" transform="translate(366.59,500.6) rotate(-90)" text-anchor="end">Actb</text>
<line x1="384.7" y1="493.6" x2="384.7" y2="498.6" stroke="#222" stroke-width="1"/>
<text class="xl" style="font-size:9.47px" transform="translate(387.89,500.6) rotate(-90)" text-anchor="end">Sdha</text>
<line x1="406" y1="493.6" x2="406" y2="498.6" stroke="#222" stroke-width="1"/>
<text class="xl" style="font-size:9.47px" transform="translate(409.19,500.6) rotate(-90)" text-anchor="end">B2m</text>
<line x1="427.3" y1="493.6" x2="427.3" y2="498.6" stroke="#222" stroke-width="1"/>
<text class="xl" style="font-size:9.47px" transform="translate(430.49,500.6) rotate(-90)" text-anchor="end">Tbp</text>
<line x1="448.6" y1="493.6" x2="448.6" y2="498.6" stroke="#222" stroke-width="1"/>
<g transform="translate(451.79,500.6) rotate(-90)"><text class="xl" style="font-size:9.47px" text-anchor="end">8S</text><path class="xl" d="M-13.51 0L-14.34 0L-13.28 -5.3Q-13.64 -5.02 -14.18 -4.73Q-14.73 -4.44 -15.14 -4.3L-14.98 -5.1Q-14.22 -5.43 -13.6 -5.9Q-12.99 -6.37 -12.68 -6.81L-12.15 -6.81Z"/></g>
<rect x="491" y="448.89" width="4" height="44.71" fill="#f08cb8"/>
<rect x="496.9" y="461.52" width="4" height="32.08" fill="#800040"/>
<rect x="502.9" y="448.64" width="4" height="44.96" fill="#808080"/>
<rect x="512.3" y="443.33" width="4" height="50.27" fill="#f08cb8"/>
<rect x="518.2" y="461.01" width="4" height="32.59" fill="#800040"/>
<rect x="524.2" y="446.11" width="4" height="47.49" fill="#808080"/>
<rect x="533.6" y="446.36" width="4" height="47.24" fill="#f08cb8"/>
<rect x="539.5" y="456.97" width="4" height="36.63" fill="#800040"/>
<rect x="545.5" y="445.1" width="4" height="48.5" fill="#808080"/>
<rect x="554.9" y="447.12" width="4" height="46.48" fill="#f08cb8"/>
<rect x="560.8" y="454.95" width="4" height="38.65" fill="#800040"/>
<rect x="566.8" y="445.1" width="4" height="48.5" fill="#808080"/>
<rect x="576.2" y="442.32" width="4" height="51.28" fill="#f08cb8"/>
<rect x="582.1" y="457.23" width="4" height="36.37" fill="#800040"/>
<rect x="588.1" y="443.08" width="4" height="50.52" fill="#808080"/>
<rect x="597.5" y="435.5" width="4" height="58.1" fill="#f08cb8"/>
<rect x="603.4" y="458.99" width="4" height="34.61" fill="#800040"/>
<rect x="609.4" y="439.54" width="4" height="54.06" fill="#808080"/>
<rect x="618.8" y="435.25" width="4" height="58.35" fill="#f08cb8"/>
<rect x="624.7" y="452.43" width="4" height="41.17" fill="#800040"/>
<rect x="630.7" y="431.21" width="4" height="62.39" fill="#808080"/>
<rect x="640.1" y="434.24" width="4" height="59.36" fill="#f08cb8"/>
<rect x="646" y="455.96" width="4" height="37.64" fill="#800040"/>
<rect x="652" y="428.68" width="4" height="64.92" fill="#808080"/>
<rect x="661.4" y="389.28" width="4" height="104.32" fill="#f08cb8"/>
<rect x="667.3" y="434.24" width="4" height="59.36" fill="#800040"/>
<rect x="673.3" y="401.4" width="4" height="92.2" fill="#808080"/>
<line x1="489.2" y1="366.8" x2="489.2" y2="493.6" stroke="#333" stroke-width="1"/>
<text class="tl" x="482.8" y="497.6" text-anchor="end">0</text>
<line x1="484.3" y1="468.34" x2="489.2" y2="468.34" stroke="#222" stroke-width="1"/>
<path class="tl" d="M480.96 472.34L480.09 472.34L480.09 466.74Q479.77 467.04 479.25 467.34Q478.74 467.65 478.33 467.8L478.33 466.95Q479.06 466.6 479.62 466.11Q480.17 465.62 480.4 465.15L480.96 465.15Z"/>
<line x1="484.3" y1="443.08" x2="489.2" y2="443.08" stroke="#222" stroke-width="1"/>
<text class="tl" x="482.8" y="447.08" text-anchor="end">2</text>
<line x1="484.3" y1="417.82" x2="489.2" y2="417.82" stroke="#222" stroke-width="1"/>
<text class="tl" x="482.8" y="421.82" text-anchor="end">3</text>
<line x1="484.3" y1="392.56" x2="489.2" y2="392.56" stroke="#222" stroke-width="1"/>
<text class="tl" x="482.8" y="396.56" text-anchor="end">4</text>
<line x1="484.3" y1="367.3" x2="489.2" y2="367.3" stroke="#222" stroke-width="1"/>
<text class="tl" x="482.8" y="371.3" text-anchor="end">5</text>
<line x1="484.1" y1="493.85" x2="678.5" y2="493.85" stroke="#8a8a8a" stroke-width="1.3"/>
<line x1="498.9" y1="493.6" x2="498.9" y2="498.6" stroke="#222" stroke-width="1"/>
<text class="xl" transform="translate(502.4,500.9) rotate(-90)" text-anchor="end">Ppia</text>
<line x1="520.2" y1="493.6" x2="520.2" y2="498.6" stroke="#222" stroke-width="1"/>
<text class="xl" transform="translate(523.7,500.9) rotate(-90)" text-anchor="end">Hrpt</text>
<line x1="541.5" y1="493.6" x2="541.5" y2="498.6" stroke="#222" stroke-width="1"/>
<text class="xl" transform="translate(545,500.9) rotate(-90)" text-anchor="end">Gapdh</text>
<line x1="562.8" y1="493.6" x2="562.8" y2="498.6" stroke="#222" stroke-width="1"/>
<text class="xl" transform="translate(566.3,500.9) rotate(-90)" text-anchor="end">Actb</text>
<line x1="584.1" y1="493.6" x2="584.1" y2="498.6" stroke="#222" stroke-width="1"/>
<text class="xl" transform="translate(587.6,500.9) rotate(-90)" text-anchor="end">Sdha</text>
<line x1="605.4" y1="493.6" x2="605.4" y2="498.6" stroke="#222" stroke-width="1"/>
<text class="xl" transform="translate(608.9,500.9) rotate(-90)" text-anchor="end">Gusb</text>
<line x1="626.7" y1="493.6" x2="626.7" y2="498.6" stroke="#222" stroke-width="1"/>
<text class="xl" transform="translate(630.2,500.9) rotate(-90)" text-anchor="end">Tbp</text>
<line x1="648" y1="493.6" x2="648" y2="498.6" stroke="#222" stroke-width="1"/>
<text class="xl" transform="translate(651.5,500.9) rotate(-90)" text-anchor="end">B2m</text>
<line x1="669.3" y1="493.6" x2="669.3" y2="498.6" stroke="#222" stroke-width="1"/>
<g transform="translate(672.8,500.9) rotate(-90)"><text class="xl" text-anchor="end">8S</text><path class="xl" d="M-14.83 0L-15.75 0L-14.58 -5.82Q-14.98 -5.51 -15.57 -5.19Q-16.17 -4.88 -16.63 -4.72L-16.45 -5.61Q-15.62 -5.97 -14.94 -6.48Q-14.26 -6.99 -13.93 -7.48L-13.34 -7.48Z"/></g>
<text class="yt" transform="translate(16,598.2) rotate(-90)" text-anchor="middle">NormFinder</text>
<line x1="49.4" y1="636.04" x2="237.7" y2="636.04" stroke="#000" stroke-width="1" stroke-dasharray="1.3 1.3"/>
<rect x="50.2" y="647.41" width="4" height="13.89" fill="#0070ff"/>
<rect x="56.1" y="650.19" width="4" height="11.11" fill="#003a80"/>
<rect x="62.1" y="650.19" width="4" height="11.11" fill="#808080"/>
<rect x="71.5" y="652.71" width="4" height="8.59" fill="#0070ff"/>
<rect x="77.4" y="649.18" width="4" height="12.12" fill="#003a80"/>
<rect x="83.4" y="649.18" width="4" height="12.12" fill="#808080"/>
<rect x="92.8" y="648.67" width="4" height="12.63" fill="#0070ff"/>
<rect x="98.7" y="647.66" width="4" height="13.64" fill="#003a80"/>
<rect x="104.7" y="645.13" width="4" height="16.17" fill="#808080"/>
<rect x="114.1" y="649.18" width="4" height="12.12" fill="#0070ff"/>
<rect x="120" y="641.34" width="4" height="19.96" fill="#003a80"/>
<rect x="126" y="644.63" width="4" height="16.67" fill="#808080"/>
<rect x="135.4" y="634.02" width="4" height="27.28" fill="#0070ff"/>
<rect x="141.3" y="628.71" width="4" height="32.59" fill="#003a80"/>
<rect x="147.3" y="631.24" width="4" height="30.06" fill="#808080"/>
<rect x="156.7" y="623.16" width="4" height="38.14" fill="#0070ff"/>
<rect x="162.6" y="626.69" width="4" height="34.61" fill="#003a80"/>
<rect x="168.6" y="621.39" width="4" height="39.91" fill="#808080"/>
<rect x="178" y="625.68" width="4" height="35.62" fill="#0070ff"/>
<rect x="183.9" y="611.29" width="4" height="50.01" fill="#003a80"/>
<rect x="189.9" y="615.33" width="4" height="45.97" fill="#808080"/>
<rect x="199.3" y="612.3" width="4" height="49" fill="#0070ff"/>
<rect x="205.2" y="588.3" width="4" height="73" fill="#003a80"/>
<rect x="211.2" y="596.38" width="4" height="64.92" fill="#808080"/>
<rect x="220.6" y="567.84" width="4" height="93.46" fill="#0070ff"/>
<rect x="226.5" y="612.3" width="4" height="49" fill="#003a80"/>
<rect x="232.5" y="585.52" width="4" height="75.78" fill="#808080"/>
<line x1="48.4" y1="534.5" x2="48.4" y2="661.3" stroke="#333" stroke-width="1"/>
<text class="tl" x="42" y="665.3" text-anchor="end">0</text>
<line x1="43.5" y1="636.04" x2="48.4" y2="636.04" stroke="#222" stroke-width="1"/>
<path class="tl" d="M40.16 640.04L39.29 640.04L39.29 634.44Q38.97 634.74 38.45 635.04Q37.94 635.35 37.53 635.5L37.53 634.65Q38.26 634.3 38.82 633.81Q39.37 633.32 39.6 632.85L40.16 632.85Z"/>
<line x1="43.5" y1="610.78" x2="48.4" y2="610.78" stroke="#222" stroke-width="1"/>
<text class="tl" x="42" y="614.78" text-anchor="end">2</text>
<line x1="43.5" y1="585.52" x2="48.4" y2="585.52" stroke="#222" stroke-width="1"/>
<text class="tl" x="42" y="589.52" text-anchor="end">3</text>
<line x1="43.5" y1="560.26" x2="48.4" y2="560.26" stroke="#222" stroke-width="1"/>
<text class="tl" x="42" y="564.26" text-anchor="end">4</text>
<line x1="43.5" y1="535" x2="48.4" y2="535" stroke="#222" stroke-width="1"/>
<text class="tl" x="42" y="539" text-anchor="end">5</text>
<line x1="43.3" y1="661.55" x2="237.7" y2="661.55" stroke="#8a8a8a" stroke-width="1.3"/>
<line x1="58.1" y1="661.3" x2="58.1" y2="666.3" stroke="#222" stroke-width="1"/>
<text class="xl" transform="translate(61.6,667.7) rotate(-90)" text-anchor="end">Ppia</text>
<line x1="79.4" y1="661.3" x2="79.4" y2="666.3" stroke="#222" stroke-width="1"/>
<text class="xl" transform="translate(82.9,667.7) rotate(-90)" text-anchor="end">Gapdh</text>
<line x1="100.7" y1="661.3" x2="100.7" y2="666.3" stroke="#222" stroke-width="1"/>
<text class="xl" transform="translate(104.2,667.7) rotate(-90)" text-anchor="end">Actb</text>
<line x1="122" y1="661.3" x2="122" y2="666.3" stroke="#222" stroke-width="1"/>
<text class="xl" transform="translate(125.5,667.7) rotate(-90)" text-anchor="end">Gusb</text>
<line x1="143.3" y1="661.3" x2="143.3" y2="666.3" stroke="#222" stroke-width="1"/>
<text class="xl" transform="translate(146.8,667.7) rotate(-90)" text-anchor="end">Tbp</text>
<line x1="164.6" y1="661.3" x2="164.6" y2="666.3" stroke="#222" stroke-width="1"/>
<text class="xl" transform="translate(168.1,667.7) rotate(-90)" text-anchor="end">Sdha</text>
<line x1="185.9" y1="661.3" x2="185.9" y2="666.3" stroke="#222" stroke-width="1"/>
<text class="xl" transform="translate(189.4,667.7) rotate(-90)" text-anchor="end">Hrpt</text>
<line x1="207.2" y1="661.3" x2="207.2" y2="666.3" stroke="#222" stroke-width="1"/>
<text class="xl" transform="translate(210.7,667.7) rotate(-90)" text-anchor="end">B2m</text>
<line x1="228.5" y1="661.3" x2="228.5" y2="666.3" stroke="#222" stroke-width="1"/>
<g transform="translate(232,667.7) rotate(-90)"><text class="xl" text-anchor="end">8S</text><path class="xl" d="M-14.83 0L-15.75 0L-14.58 -5.82Q-14.98 -5.51 -15.57 -5.19Q-16.17 -4.88 -16.63 -4.72L-16.45 -5.61Q-15.62 -5.97 -14.94 -6.48Q-14.26 -6.99 -13.93 -7.48L-13.34 -7.48Z"/></g>
<line x1="269.5" y1="636.04" x2="457.8" y2="636.04" stroke="#000" stroke-width="1" stroke-dasharray="1.3 1.3"/>
<rect x="270.3" y="650.19" width="4" height="11.11" fill="#43b05c"/>
<rect x="276.2" y="646.14" width="4" height="15.16" fill="#0b5c2c"/>
<rect x="282.2" y="647.91" width="4" height="13.39" fill="#808080"/>
<rect x="291.6" y="639.07" width="4" height="22.23" fill="#43b05c"/>
<rect x="297.5" y="640.08" width="4" height="21.22" fill="#0b5c2c"/>
<rect x="303.5" y="639.58" width="4" height="21.72" fill="#808080"/>
<rect x="312.9" y="633.26" width="4" height="28.04" fill="#43b05c"/>
<rect x="318.8" y="639.83" width="4" height="21.47" fill="#0b5c2c"/>
<rect x="324.8" y="636.29" width="4" height="25.01" fill="#808080"/>
<rect x="334.2" y="634.78" width="4" height="26.52" fill="#43b05c"/>
<rect x="340.1" y="635.28" width="4" height="26.02" fill="#0b5c2c"/>
<rect x="346.1" y="635.03" width="4" height="26.27" fill="#808080"/>
<rect x="355.5" y="635.03" width="4" height="26.27" fill="#43b05c"/>
<rect x="361.4" y="631.49" width="4" height="29.81" fill="#0b5c2c"/>
<rect x="367.4" y="633.26" width="4" height="28.04" fill="#808080"/>
<rect x="376.8" y="628.71" width="4" height="32.59" fill="#43b05c"/>
<rect x="382.7" y="629.98" width="4" height="31.32" fill="#0b5c2c"/>
<rect x="388.7" y="629.22" width="4" height="32.08" fill="#808080"/>
<rect x="398.1" y="629.22" width="4" height="32.08" fill="#43b05c"/>
<rect x="404" y="610.02" width="4" height="51.28" fill="#0b5c2c"/>
<rect x="410" y="618.61" width="4" height="42.69" fill="#808080"/>
<rect x="419.4" y="615.07" width="4" height="46.23" fill="#43b05c"/>
<rect x="425.3" y="612.3" width="4" height="49" fill="#0b5c2c"/>
<rect x="431.3" y="614.06" width="4" height="47.24" fill="#808080"/>
<rect x="440.7" y="563.8" width="4" height="97.5" fill="#43b05c"/>
<rect x="446.6" y="613.31" width="4" height="47.99" fill="#0b5c2c"/>
<rect x="452.6" y="584.26" width="4" height="77.04" fill="#808080"/>
<line x1="268.5" y1="534.5" x2="268.5" y2="661.3" stroke="#333" stroke-width="1"/>
<text class="tl" x="262.1" y="665.3" text-anchor="end">0</text>
<line x1="263.6" y1="636.04" x2="268.5" y2="636.04" stroke="#222" stroke-width="1"/>
<path class="tl" d="M260.26 640.04L259.39 640.04L259.39 634.44Q259.07 634.74 258.55 635.04Q258.04 635.35 257.63 635.5L257.63 634.65Q258.36 634.3 258.92 633.81Q259.47 633.32 259.7 632.85L260.26 632.85Z"/>
<line x1="263.6" y1="610.78" x2="268.5" y2="610.78" stroke="#222" stroke-width="1"/>
<text class="tl" x="262.1" y="614.78" text-anchor="end">2</text>
<line x1="263.6" y1="585.52" x2="268.5" y2="585.52" stroke="#222" stroke-width="1"/>
<text class="tl" x="262.1" y="589.52" text-anchor="end">3</text>
<line x1="263.6" y1="560.26" x2="268.5" y2="560.26" stroke="#222" stroke-width="1"/>
<text class="tl" x="262.1" y="564.26" text-anchor="end">4</text>
<line x1="263.6" y1="535" x2="268.5" y2="535" stroke="#222" stroke-width="1"/>
<text class="tl" x="262.1" y="539" text-anchor="end">5</text>
<line x1="263.4" y1="661.55" x2="457.8" y2="661.55" stroke="#8a8a8a" stroke-width="1.3"/>
<line x1="278.2" y1="661.3" x2="278.2" y2="666.3" stroke="#222" stroke-width="1"/>
<text class="xl" transform="translate(281.7,667.7) rotate(-90)" text-anchor="end">Ppia</text>
<line x1="299.5" y1="661.3" x2="299.5" y2="666.3" stroke="#222" stroke-width="1"/>
<text class="xl" transform="translate(303,667.7) rotate(-90)" text-anchor="end">Hrpt</text>
<line x1="320.8" y1="661.3" x2="320.8" y2="666.3" stroke="#222" stroke-width="1"/>
<text class="xl" transform="translate(324.3,667.7) rotate(-90)" text-anchor="end">Gusb</text>
<line x1="342.1" y1="661.3" x2="342.1" y2="666.3" stroke="#222" stroke-width="1"/>
<text class="xl" transform="translate(345.6,667.7) rotate(-90)" text-anchor="end">Gapdh</text>
<line x1="363.4" y1="661.3" x2="363.4" y2="666.3" stroke="#222" stroke-width="1"/>
<text class="xl" transform="translate(366.9,667.7) rotate(-90)" text-anchor="end">Actb</text>
<line x1="384.7" y1="661.3" x2="384.7" y2="666.3" stroke="#222" stroke-width="1"/>
<text class="xl" transform="translate(388.2,667.7) rotate(-90)" text-anchor="end">Sdha</text>
<line x1="406" y1="661.3" x2="406" y2="666.3" stroke="#222" stroke-width="1"/>
<text class="xl" transform="translate(409.5,667.7) rotate(-90)" text-anchor="end">B2m</text>
<line x1="427.3" y1="661.3" x2="427.3" y2="666.3" stroke="#222" stroke-width="1"/>
<text class="xl" transform="translate(430.8,667.7) rotate(-90)" text-anchor="end">Tbp</text>
<line x1="448.6" y1="661.3" x2="448.6" y2="666.3" stroke="#222" stroke-width="1"/>
<g transform="translate(452.1,667.7) rotate(-90)"><text class="xl" text-anchor="end">8S</text><path class="xl" d="M-14.83 0L-15.75 0L-14.58 -5.82Q-14.98 -5.51 -15.57 -5.19Q-16.17 -4.88 -16.63 -4.72L-16.45 -5.61Q-15.62 -5.97 -14.94 -6.48Q-14.26 -6.99 -13.93 -7.48L-13.34 -7.48Z"/></g>
<line x1="490.2" y1="636.04" x2="678.5" y2="636.04" stroke="#000" stroke-width="1" stroke-dasharray="1.3 1.3"/>
<rect x="491" y="642.36" width="4" height="18.94" fill="#f08cb8"/>
<rect x="496.9" y="647.15" width="4" height="14.15" fill="#800040"/>
<rect x="502.9" y="643.11" width="4" height="18.19" fill="#808080"/>
<rect x="512.3" y="635.03" width="4" height="26.27" fill="#f08cb8"/>
<rect x="518.2" y="643.87" width="4" height="17.43" fill="#800040"/>
<rect x="524.2" y="638.82" width="4" height="22.48" fill="#808080"/>
<rect x="533.6" y="637.05" width="4" height="24.25" fill="#f08cb8"/>
<rect x="539.5" y="637.56" width="4" height="23.74" fill="#800040"/>
<rect x="545.5" y="634.78" width="4" height="26.52" fill="#808080"/>
<rect x="554.9" y="637.81" width="4" height="23.49" fill="#f08cb8"/>
<rect x="560.8" y="633.26" width="4" height="28.04" fill="#800040"/>
<rect x="566.8" y="634.02" width="4" height="27.28" fill="#808080"/>
<rect x="576.2" y="631.49" width="4" height="29.81" fill="#f08cb8"/>
<rect x="582.1" y="637.56" width="4" height="23.74" fill="#800040"/>
<rect x="588.1" y="632.5" width="4" height="28.8" fill="#808080"/>
<rect x="597.5" y="622.15" width="4" height="39.15" fill="#f08cb8"/>
<rect x="603.4" y="641.6" width="4" height="19.7" fill="#800040"/>
<rect x="609.4" y="627.2" width="4" height="34.1" fill="#808080"/>
<rect x="618.8" y="620.88" width="4" height="40.42" fill="#f08cb8"/>
<rect x="624.7" y="630.48" width="4" height="30.82" fill="#800040"/>
<rect x="630.7" y="612.8" width="4" height="48.5" fill="#808080"/>
<rect x="640.1" y="615.33" width="4" height="45.97" fill="#f08cb8"/>
<rect x="646" y="634.52" width="4" height="26.78" fill="#800040"/>
<rect x="652" y="608" width="4" height="53.3" fill="#808080"/>
<rect x="661.4" y="562.03" width="4" height="99.27" fill="#f08cb8"/>
<rect x="667.3" y="606.49" width="4" height="54.81" fill="#800040"/>
<rect x="673.3" y="576.17" width="4" height="85.13" fill="#808080"/>
<line x1="489.2" y1="534.5" x2="489.2" y2="661.3" stroke="#333" stroke-width="1"/>
<text class="tl" x="482.8" y="665.3" text-anchor="end">0</text>
<line x1="484.3" y1="636.04" x2="489.2" y2="636.04" stroke="#222" stroke-width="1"/>
<path class="tl" d="M480.96 640.04L480.09 640.04L480.09 634.44Q479.77 634.74 479.25 635.04Q478.74 635.35 478.33 635.5L478.33 634.65Q479.06 634.3 479.62 633.81Q480.17 633.32 480.4 632.85L480.96 632.85Z"/>
<line x1="484.3" y1="610.78" x2="489.2" y2="610.78" stroke="#222" stroke-width="1"/>
<text class="tl" x="482.8" y="614.78" text-anchor="end">2</text>
<line x1="484.3" y1="585.52" x2="489.2" y2="585.52" stroke="#222" stroke-width="1"/>
<text class="tl" x="482.8" y="589.52" text-anchor="end">3</text>
<line x1="484.3" y1="560.26" x2="489.2" y2="560.26" stroke="#222" stroke-width="1"/>
<text class="tl" x="482.8" y="564.26" text-anchor="end">4</text>
<line x1="484.3" y1="535" x2="489.2" y2="535" stroke="#222" stroke-width="1"/>
<text class="tl" x="482.8" y="539" text-anchor="end">5</text>
<line x1="484.1" y1="661.55" x2="678.5" y2="661.55" stroke="#8a8a8a" stroke-width="1.3"/>
<line x1="498.9" y1="661.3" x2="498.9" y2="666.3" stroke="#222" stroke-width="1"/>
<text class="xl" transform="translate(502.4,667.7) rotate(-90)" text-anchor="end">Ppia</text>
<line x1="520.2" y1="661.3" x2="520.2" y2="666.3" stroke="#222" stroke-width="1"/>
<text class="xl" transform="translate(523.7,667.7) rotate(-90)" text-anchor="end">Actb</text>
<line x1="541.5" y1="661.3" x2="541.5" y2="666.3" stroke="#222" stroke-width="1"/>
<text class="xl" transform="translate(545,667.7) rotate(-90)" text-anchor="end">Hrpt</text>
<line x1="562.8" y1="661.3" x2="562.8" y2="666.3" stroke="#222" stroke-width="1"/>
<text class="xl" transform="translate(566.3,667.7) rotate(-90)" text-anchor="end">Gapdh</text>
<line x1="584.1" y1="661.3" x2="584.1" y2="666.3" stroke="#222" stroke-width="1"/>
<text class="xl" transform="translate(587.6,667.7) rotate(-90)" text-anchor="end">Sdha</text>
<line x1="605.4" y1="661.3" x2="605.4" y2="666.3" stroke="#222" stroke-width="1"/>
<text class="xl" transform="translate(608.9,667.7) rotate(-90)" text-anchor="end">Gusb</text>
<line x1="626.7" y1="661.3" x2="626.7" y2="666.3" stroke="#222" stroke-width="1"/>
<text class="xl" transform="translate(630.2,667.7) rotate(-90)" text-anchor="end">Tbp</text>
<line x1="648" y1="661.3" x2="648" y2="666.3" stroke="#222" stroke-width="1"/>
<text class="xl" transform="translate(651.5,667.7) rotate(-90)" text-anchor="end">B2m</text>
<line x1="669.3" y1="661.3" x2="669.3" y2="666.3" stroke="#222" stroke-width="1"/>
<g transform="translate(672.8,667.7) rotate(-90)"><text class="xl" text-anchor="end">8S</text><path class="xl" d="M-14.83 0L-15.75 0L-14.58 -5.82Q-14.98 -5.51 -15.57 -5.19Q-16.17 -4.88 -16.63 -4.72L-16.45 -5.61Q-15.62 -5.97 -14.94 -6.48Q-14.26 -6.99 -13.93 -7.48L-13.34 -7.48Z"/></g>
<text class="yt" transform="translate(16,766) rotate(-90)" text-anchor="middle">geNorm</text>
<line x1="49.85" y1="786.37" x2="238.15" y2="786.37" stroke="#000" stroke-width="1" stroke-dasharray="1.3 1.3"/>
<rect x="50.65" y="804.02" width="4" height="24.38" fill="#0070ff"/>
<rect x="56.55" y="790.99" width="4" height="37.41" fill="#003a80"/>
<rect x="62.55" y="793.09" width="4" height="35.31" fill="#808080"/>
<rect x="71.95" y="804.02" width="4" height="24.38" fill="#0070ff"/>
<rect x="77.85" y="788.47" width="4" height="39.93" fill="#003a80"/>
<rect x="83.85" y="793.09" width="4" height="35.31" fill="#808080"/>
<rect x="93.25" y="795.19" width="4" height="33.21" fill="#0070ff"/>
<rect x="99.15" y="787.21" width="4" height="41.19" fill="#003a80"/>
<rect x="105.15" y="787.21" width="4" height="41.19" fill="#808080"/>
<rect x="114.55" y="793.51" width="4" height="34.89" fill="#0070ff"/>
<rect x="120.45" y="790.99" width="4" height="37.41" fill="#003a80"/>
<rect x="126.45" y="787.21" width="4" height="41.19" fill="#808080"/>
<rect x="135.85" y="789.73" width="4" height="38.67" fill="#0070ff"/>
<rect x="141.75" y="780.06" width="4" height="48.34" fill="#003a80"/>
<rect x="147.75" y="782.16" width="4" height="46.24" fill="#808080"/>
<rect x="157.15" y="772.92" width="4" height="55.48" fill="#0070ff"/>
<rect x="163.05" y="774.18" width="4" height="54.22" fill="#003a80"/>
<rect x="169.05" y="772.5" width="4" height="55.9" fill="#808080"/>
<rect x="178.45" y="782.16" width="4" height="46.24" fill="#0070ff"/>
<rect x="184.35" y="764.09" width="4" height="64.31" fill="#003a80"/>
<rect x="190.35" y="765.35" width="4" height="63.05" fill="#808080"/>
<rect x="199.75" y="765.35" width="4" height="63.05" fill="#0070ff"/>
<rect x="205.65" y="743.91" width="4" height="84.49" fill="#003a80"/>
<rect x="211.65" y="752.32" width="4" height="76.08" fill="#808080"/>
<rect x="221.05" y="743.07" width="4" height="85.33" fill="#0070ff"/>
<rect x="226.95" y="757.36" width="4" height="71.04" fill="#003a80"/>
<rect x="232.95" y="738.45" width="4" height="89.95" fill="#808080"/>
<line x1="48.85" y1="701.8" x2="48.85" y2="828.4" stroke="#333" stroke-width="1"/>
<text class="tl" x="42.45" y="832.4" text-anchor="end">0</text>
<line x1="43.95" y1="786.37" x2="48.85" y2="786.37" stroke="#222" stroke-width="1"/>
<path class="tl" d="M40.61 790.37L39.74 790.37L39.74 784.77Q39.42 785.07 38.9 785.37Q38.39 785.67 37.98 785.83L37.98 784.98Q38.71 784.63 39.27 784.14Q39.82 783.64 40.05 783.18L40.61 783.18Z"/>
<line x1="43.95" y1="744.33" x2="48.85" y2="744.33" stroke="#222" stroke-width="1"/>
<text class="tl" x="42.45" y="748.33" text-anchor="end">2</text>
<line x1="43.95" y1="702.3" x2="48.85" y2="702.3" stroke="#222" stroke-width="1"/>
<text class="tl" x="42.45" y="706.3" text-anchor="end">3</text>
<line x1="43.75" y1="828.65" x2="238.15" y2="828.65" stroke="#8a8a8a" stroke-width="1.3"/>
<line x1="58.55" y1="828.4" x2="58.55" y2="833.4" stroke="#222" stroke-width="1"/>
<text class="xl" transform="translate(62.05,835.2) rotate(-90)" text-anchor="end">Ppia</text>
<line x1="79.85" y1="828.4" x2="79.85" y2="833.4" stroke="#222" stroke-width="1"/>
<text class="xl" transform="translate(83.35,835.2) rotate(-90)" text-anchor="end">Actb</text>
<line x1="101.15" y1="828.4" x2="101.15" y2="833.4" stroke="#222" stroke-width="1"/>
<text class="xl" transform="translate(104.65,835.2) rotate(-90)" text-anchor="end">Gusb</text>
<line x1="122.45" y1="828.4" x2="122.45" y2="833.4" stroke="#222" stroke-width="1"/>
<text class="xl" transform="translate(125.95,835.2) rotate(-90)" text-anchor="end">Gapdh</text>
<line x1="143.75" y1="828.4" x2="143.75" y2="833.4" stroke="#222" stroke-width="1"/>
<text class="xl" transform="translate(147.25,835.2) rotate(-90)" text-anchor="end">Tbp</text>
<line x1="165.05" y1="828.4" x2="165.05" y2="833.4" stroke="#222" stroke-width="1"/>
<text class="xl" transform="translate(168.55,835.2) rotate(-90)" text-anchor="end">Sdha</text>
<line x1="186.35" y1="828.4" x2="186.35" y2="833.4" stroke="#222" stroke-width="1"/>
<text class="xl" transform="translate(189.85,835.2) rotate(-90)" text-anchor="end">Hrpt</text>
<line x1="207.65" y1="828.4" x2="207.65" y2="833.4" stroke="#222" stroke-width="1"/>
<text class="xl" transform="translate(211.15,835.2) rotate(-90)" text-anchor="end">B2m</text>
<line x1="228.95" y1="828.4" x2="228.95" y2="833.4" stroke="#222" stroke-width="1"/>
<g transform="translate(232.45,835.2) rotate(-90)"><text class="xl" text-anchor="end">8S</text><path class="xl" d="M-14.83 0L-15.75 0L-14.58 -5.82Q-14.98 -5.51 -15.57 -5.19Q-16.17 -4.88 -16.63 -4.72L-16.45 -5.61Q-15.62 -5.97 -14.94 -6.48Q-14.26 -6.99 -13.93 -7.48L-13.34 -7.48Z"/></g>
<line x1="269.95" y1="786.37" x2="458.25" y2="786.37" stroke="#000" stroke-width="1" stroke-dasharray="1.3 1.3"/>
<rect x="270.75" y="798.98" width="4" height="29.42" fill="#43b05c"/>
<rect x="276.65" y="796.45" width="4" height="31.95" fill="#0b5c2c"/>
<rect x="282.65" y="798.14" width="4" height="30.26" fill="#808080"/>
<rect x="292.05" y="798.98" width="4" height="29.42" fill="#43b05c"/>
<rect x="297.95" y="796.45" width="4" height="31.95" fill="#0b5c2c"/>
<rect x="303.95" y="798.14" width="4" height="30.26" fill="#808080"/>
<rect x="313.35" y="785.95" width="4" height="42.45" fill="#43b05c"/>
<rect x="319.25" y="784.69" width="4" height="43.71" fill="#0b5c2c"/>
<rect x="325.25" y="785.53" width="4" height="42.87" fill="#808080"/>
<rect x="334.65" y="782.16" width="4" height="46.24" fill="#43b05c"/>
<rect x="340.55" y="780.06" width="4" height="48.34" fill="#0b5c2c"/>
<rect x="346.55" y="781.32" width="4" height="47.08" fill="#808080"/>
<rect x="355.95" y="775.02" width="4" height="53.38" fill="#43b05c"/>
<rect x="361.85" y="775.02" width="4" height="53.38" fill="#0b5c2c"/>
<rect x="367.85" y="775.44" width="4" height="52.96" fill="#808080"/>
<rect x="377.25" y="768.29" width="4" height="60.11" fill="#43b05c"/>
<rect x="383.15" y="769.55" width="4" height="58.85" fill="#0b5c2c"/>
<rect x="389.15" y="769.97" width="4" height="58.43" fill="#808080"/>
<rect x="398.55" y="770.81" width="4" height="57.59" fill="#43b05c"/>
<rect x="404.45" y="749.38" width="4" height="79.02" fill="#0b5c2c"/>
<rect x="410.45" y="764.93" width="4" height="63.47" fill="#808080"/>
<rect x="419.85" y="761.15" width="4" height="67.25" fill="#43b05c"/>
<rect x="425.75" y="761.99" width="4" height="66.41" fill="#0b5c2c"/>
<rect x="431.75" y="758.2" width="4" height="70.2" fill="#808080"/>
<rect x="441.15" y="738.45" width="4" height="89.95" fill="#43b05c"/>
<rect x="447.05" y="755.26" width="4" height="73.14" fill="#0b5c2c"/>
<rect x="453.05" y="743.07" width="4" height="85.33" fill="#808080"/>
<line x1="268.95" y1="701.8" x2="268.95" y2="828.4" stroke="#333" stroke-width="1"/>
<text class="tl" x="262.55" y="832.4" text-anchor="end">0</text>
<line x1="264.05" y1="786.37" x2="268.95" y2="786.37" stroke="#222" stroke-width="1"/>
<path class="tl" d="M260.71 790.37L259.84 790.37L259.84 784.77Q259.52 785.07 259 785.37Q258.49 785.67 258.08 785.83L258.08 784.98Q258.81 784.63 259.37 784.14Q259.92 783.64 260.15 783.18L260.71 783.18Z"/>
<line x1="264.05" y1="744.33" x2="268.95" y2="744.33" stroke="#222" stroke-width="1"/>
<text class="tl" x="262.55" y="748.33" text-anchor="end">2</text>
<line x1="264.05" y1="702.3" x2="268.95" y2="702.3" stroke="#222" stroke-width="1"/>
<text class="tl" x="262.55" y="706.3" text-anchor="end">3</text>
<line x1="263.85" y1="828.65" x2="458.25" y2="828.65" stroke="#8a8a8a" stroke-width="1.3"/>
<line x1="278.65" y1="828.4" x2="278.65" y2="833.4" stroke="#222" stroke-width="1"/>
<text class="xl" transform="translate(282.15,835.2) rotate(-90)" text-anchor="end">Hrpt</text>
<line x1="299.95" y1="828.4" x2="299.95" y2="833.4" stroke="#222" stroke-width="1"/>
<text class="xl" transform="translate(303.45,835.2) rotate(-90)" text-anchor="end">Ppia</text>
<line x1="321.25" y1="828.4" x2="321.25" y2="833.4" stroke="#222" stroke-width="1"/>
<text class="xl" transform="translate(324.75,835.2) rotate(-90)" text-anchor="end">Gapdh</text>
<line x1="342.55" y1="828.4" x2="342.55" y2="833.4" stroke="#222" stroke-width="1"/>
<text class="xl" transform="translate(346.05,835.2) rotate(-90)" text-anchor="end">Sdha</text>
<line x1="363.85" y1="828.4" x2="363.85" y2="833.4" stroke="#222" stroke-width="1"/>
<text class="xl" transform="translate(367.35,835.2) rotate(-90)" text-anchor="end">Gusb</text>
<line x1="385.15" y1="828.4" x2="385.15" y2="833.4" stroke="#222" stroke-width="1"/>
<text class="xl" transform="translate(388.65,835.2) rotate(-90)" text-anchor="end">Actb</text>
<line x1="406.45" y1="828.4" x2="406.45" y2="833.4" stroke="#222" stroke-width="1"/>
<text class="xl" transform="translate(409.95,835.2) rotate(-90)" text-anchor="end">B2m</text>
<line x1="427.75" y1="828.4" x2="427.75" y2="833.4" stroke="#222" stroke-width="1"/>
<text class="xl" transform="translate(431.25,835.2) rotate(-90)" text-anchor="end">Tbp</text>
<line x1="449.05" y1="828.4" x2="449.05" y2="833.4" stroke="#222" stroke-width="1"/>
<g transform="translate(452.55,835.2) rotate(-90)"><text class="xl" text-anchor="end">8S</text><path class="xl" d="M-14.83 0L-15.75 0L-14.58 -5.82Q-14.98 -5.51 -15.57 -5.19Q-16.17 -4.88 -16.63 -4.72L-16.45 -5.61Q-15.62 -5.97 -14.94 -6.48Q-14.26 -6.99 -13.93 -7.48L-13.34 -7.48Z"/></g>
<line x1="490.65" y1="786.37" x2="678.95" y2="786.37" stroke="#000" stroke-width="1" stroke-dasharray="1.3 1.3"/>
<rect x="491.45" y="789.73" width="4" height="38.67" fill="#f08cb8"/>
<rect x="497.35" y="787.21" width="4" height="41.19" fill="#800040"/>
<rect x="503.35" y="784.26" width="4" height="44.13" fill="#808080"/>
<rect x="512.75" y="791.83" width="4" height="36.57" fill="#f08cb8"/>
<rect x="518.65" y="790.15" width="4" height="38.25" fill="#800040"/>
<rect x="524.65" y="784.26" width="4" height="44.13" fill="#808080"/>
<rect x="534.05" y="791.83" width="4" height="36.57" fill="#f08cb8"/>
<rect x="539.95" y="777.12" width="4" height="51.28" fill="#800040"/>
<rect x="545.95" y="779.22" width="4" height="49.18" fill="#808080"/>
<rect x="555.35" y="778.38" width="4" height="50.02" fill="#f08cb8"/>
<rect x="561.25" y="785.53" width="4" height="42.87" fill="#800040"/>
<rect x="567.25" y="775.02" width="4" height="53.38" fill="#808080"/>
<rect x="576.65" y="771.65" width="4" height="56.75" fill="#f08cb8"/>
<rect x="582.55" y="782.16" width="4" height="46.24" fill="#800040"/>
<rect x="588.55" y="769.13" width="4" height="59.27" fill="#808080"/>
<rect x="597.95" y="754" width="4" height="74.4" fill="#f08cb8"/>
<rect x="603.85" y="763.67" width="4" height="64.73" fill="#800040"/>
<rect x="609.85" y="763.67" width="4" height="64.73" fill="#808080"/>
<rect x="619.25" y="758.62" width="4" height="69.78" fill="#f08cb8"/>
<rect x="625.15" y="773.76" width="4" height="54.64" fill="#800040"/>
<rect x="631.15" y="756.1" width="4" height="72.3" fill="#808080"/>
<rect x="640.55" y="764.93" width="4" height="63.47" fill="#f08cb8"/>
<rect x="646.45" y="779.22" width="4" height="49.18" fill="#800040"/>
<rect x="652.45" y="749.8" width="4" height="78.6" fill="#808080"/>
<rect x="661.85" y="731.72" width="4" height="96.68" fill="#f08cb8"/>
<rect x="667.75" y="790.57" width="4" height="37.83" fill="#800040"/>
<rect x="673.75" y="732.98" width="4" height="95.42" fill="#808080"/>
<line x1="489.65" y1="701.8" x2="489.65" y2="828.4" stroke="#333" stroke-width="1"/>
<text class="tl" x="483.25" y="832.4" text-anchor="end">0</text>
<line x1="484.75" y1="786.37" x2="489.65" y2="786.37" stroke="#222" stroke-width="1"/>
<path class="tl" d="M481.41 790.37L480.54 790.37L480.54 784.77Q480.22 785.07 479.7 785.37Q479.19 785.67 478.78 785.83L478.78 784.98Q479.51 784.63 480.07 784.14Q480.62 783.64 480.85 783.18L481.41 783.18Z"/>
<line x1="484.75" y1="744.33" x2="489.65" y2="744.33" stroke="#222" stroke-width="1"/>
<text class="tl" x="483.25" y="748.33" text-anchor="end">2</text>
<line x1="484.75" y1="702.3" x2="489.65" y2="702.3" stroke="#222" stroke-width="1"/>
<text class="tl" x="483.25" y="706.3" text-anchor="end">3</text>
<line x1="484.55" y1="828.65" x2="678.95" y2="828.65" stroke="#8a8a8a" stroke-width="1.3"/>
<line x1="499.35" y1="828.4" x2="499.35" y2="833.4" stroke="#222" stroke-width="1"/>
<text class="xl" transform="translate(502.85,835.4) rotate(-90)" text-anchor="end">Gapdh</text>
<line x1="520.65" y1="828.4" x2="520.65" y2="833.4" stroke="#222" stroke-width="1"/>
<text class="xl" transform="translate(524.15,835.4) rotate(-90)" text-anchor="end">Sdha</text>
<line x1="541.95" y1="828.4" x2="541.95" y2="833.4" stroke="#222" stroke-width="1"/>
<text class="xl" transform="translate(545.45,835.4) rotate(-90)" text-anchor="end">Ppia</text>
<line x1="563.25" y1="828.4" x2="563.25" y2="833.4" stroke="#222" stroke-width="1"/>
<text class="xl" transform="translate(566.75,835.4) rotate(-90)" text-anchor="end">Hrpt</text>
<line x1="584.55" y1="828.4" x2="584.55" y2="833.4" stroke="#222" stroke-width="1"/>
<text class="xl" transform="translate(588.05,835.4) rotate(-90)" text-anchor="end">Actb</text>
<line x1="605.85" y1="828.4" x2="605.85" y2="833.4" stroke="#222" stroke-width="1"/>
<text class="xl" transform="translate(609.35,835.4) rotate(-90)" text-anchor="end">Gusb</text>
<line x1="627.15" y1="828.4" x2="627.15" y2="833.4" stroke="#222" stroke-width="1"/>
<text class="xl" transform="translate(630.65,835.4) rotate(-90)" text-anchor="end">Tbp</text>
<line x1="648.45" y1="828.4" x2="648.45" y2="833.4" stroke="#222" stroke-width="1"/>
<text class="xl" transform="translate(651.95,835.4) rotate(-90)" text-anchor="end">B2m</text>
<line x1="669.75" y1="828.4" x2="669.75" y2="833.4" stroke="#222" stroke-width="1"/>
<g transform="translate(673.25,835.4) rotate(-90)"><text class="xl" text-anchor="end">8S</text><path class="xl" d="M-14.83 0L-15.75 0L-14.58 -5.82Q-14.98 -5.51 -15.57 -5.19Q-16.17 -4.88 -16.63 -4.72L-16.45 -5.61Q-15.62 -5.97 -14.94 -6.48Q-14.26 -6.99 -13.93 -7.48L-13.34 -7.48Z"/></g>
<line x1="62" y1="888.2" x2="99.1" y2="888.2" stroke="#111" stroke-width="1.1"/>
<polygon points="53.1,888.2 62.6,883.4 62.6,893" fill="#000"/>
<line x1="187" y1="888.2" x2="224.5" y2="888.2" stroke="#111" stroke-width="1.1"/>
<polygon points="232.7,888.2 224,883.4 224,893" fill="#000"/>
<text class="st" x="112.5" y="886" text-anchor="middle">More</text>
<text class="st" x="113.2" y="897.4" text-anchor="middle">stable</text>
<text class="st" x="171.4" y="886" text-anchor="middle">Less</text>
<text class="st" x="171.2" y="897.4" text-anchor="middle">stable</text>
<line x1="278.8" y1="888.2" x2="315.9" y2="888.2" stroke="#111" stroke-width="1.1"/>
<polygon points="269.9,888.2 279.4,883.4 279.4,893" fill="#000"/>
<line x1="403.8" y1="888.2" x2="441.3" y2="888.2" stroke="#111" stroke-width="1.1"/>
<polygon points="449.5,888.2 440.8,883.4 440.8,893" fill="#000"/>
<text class="st" x="329.3" y="886" text-anchor="middle">More</text>
<text class="st" x="330" y="897.4" text-anchor="middle">stable</text>
<text class="st" x="388.2" y="886" text-anchor="middle">Less</text>
<text class="st" x="388" y="897.4" text-anchor="middle">stable</text>
<line x1="503" y1="888.2" x2="540.1" y2="888.2" stroke="#111" stroke-width="1.1"/>
<polygon points="494.1,888.2 503.6,883.4 503.6,893" fill="#000"/>
<line x1="628" y1="888.2" x2="665.5" y2="888.2" stroke="#111" stroke-width="1.1"/>
<polygon points="673.7,888.2 665,883.4 665,893" fill="#000"/>
<text class="st" x="553.5" y="886" text-anchor="middle">More</text>
<text class="st" x="554.2" y="897.4" text-anchor="middle">stable</text>
<text class="st" x="612.4" y="886" text-anchor="middle">Less</text>
<text class="st" x="612.2" y="897.4" text-anchor="middle">stable</text>
<rect x="55" y="915.9" width="20" height="6.4" fill="#0070ff"/>
<text class="lg" x="86.2" y="923.8">Naïve mice</text>
<rect x="55" y="931.9" width="20" height="6.4" fill="#003a80"/>
<text class="lg" x="86.2" y="939.6">CCHFV-infected mice</text>
<rect x="55" y="947.9" width="20" height="6.4" fill="#808080"/>
<text class="lg" x="86.2" y="955.4">Naïve + Infected mice</text>
<rect x="275.5" y="915.9" width="20" height="6.4" fill="#43b05c"/>
<text class="lg" x="306.7" y="923.8">Naïve hamsters</text>
<rect x="275.5" y="931.9" width="20" height="6.4" fill="#0b5c2c"/>
<text class="lg" x="306.7" y="939.6">NiV-Infected hamsters</text>
<rect x="275.5" y="947.9" width="20" height="6.4" fill="#808080"/>
<text class="lg" x="306.7" y="955.4">Naïve + Infected hamsters</text>
<rect x="496" y="915.9" width="20" height="6.4" fill="#f08cb8"/>
<text class="lg" x="527.2" y="923.8">Naïve guinea pigs</text>
<rect x="496" y="931.9" width="20" height="6.4" fill="#800040"/>
<text class="lg" x="527.2" y="939.6">LASV-infected guinea pigs</text>
<rect x="496" y="947.9" width="20" height="6.4" fill="#808080"/>
<text class="lg" x="527.2" y="955.4">Naïve + Infected guinea pigs</text>
</svg></body></html>
